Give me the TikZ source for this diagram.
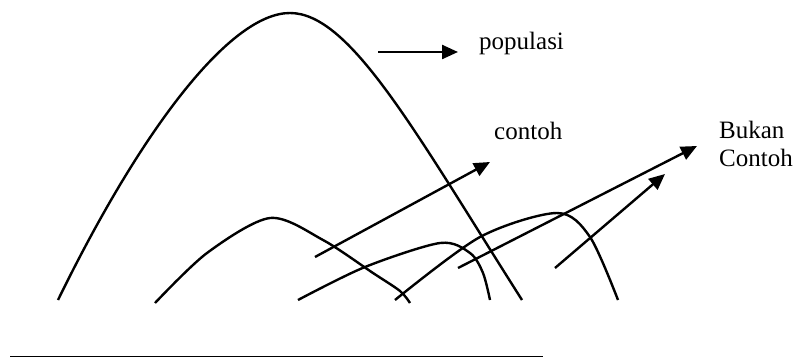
\documentclass[tikz,border=0pt]{standalone}
\usepackage{fontspec}
\setmainfont{Liberation Serif}
\usetikzlibrary{arrows.meta}

\begin{document}
\begin{tikzpicture}[x=1pt, y=-1pt, line width=2.4pt,
  label/.style={inner sep=0pt, font=\fontsize{25}{28}\selectfont},
  pointer/.style={-{Triangle[length=16pt, width=14pt]}}]
  \useasboundingbox (0,0) rectangle (797,358);
  % populations and samples
  \draw (58,300) .. controls (141,130) and (230,13) .. (290,13)
                 .. controls (350,13) and (414,130) .. (522,300);
  \draw plot[smooth] coordinates {(155,303) (207,253) (270,218) (323,240) (373,273) (400,291) (410,303)};
  \draw plot[smooth] coordinates {(298,300) (365,267) (440,243) (470,253) (483,273) (490,300)};
  \draw plot[smooth] coordinates {(395,300) (480,237) (557,213) (590,237) (618,300)};
  % labels
  \node[label, anchor=base west] (populasi) at (478,50) {populasi};
  \node[label, anchor=base west] (contoh) at (493,140) {contoh};
  \node[label, anchor=north west, align=left] (bukan) at (718,120) {Bukan\\Contoh};
  % arrows
  \coordinate (p0) at (378,52);  \coordinate (p1) at (458,52);
  \coordinate (c0) at (315,257); \coordinate (c1) at (490,162);
  \coordinate (b0) at (458,268); \coordinate (b1) at (697,146);
  \coordinate (d0) at (555,268); \coordinate (d1) at (665,174);
  \draw[pointer] (p0) -- (p1);
  \draw[pointer] (c0) -- (c1);
  \draw[pointer] (b0) -- (b1);
  \draw[pointer] (d0) -- (d1);
  % underline
  \coordinate (u0) at (10,356.5); \coordinate (u1) at (543,356.5);
  \draw[line width=1.4pt] (u0) -- (u1);
\end{tikzpicture}
\end{document}
